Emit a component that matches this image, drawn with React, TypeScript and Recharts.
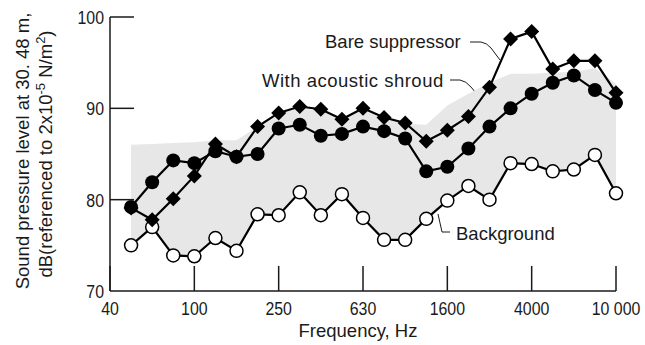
import React from "react"
import { ComposedChart, Line, Area, XAxis, YAxis } from "recharts"

// one-third octave band centres, Hz
const bands = [40, 50, 63, 80, 100, 125, 160, 200, 250, 315, 400, 500, 630, 800, 1000, 1250, 1600, 2000, 2500, 3150, 4000, 5000, 6300, 8000, 10000]

// levels from 50 Hz up (no reading at 40 Hz)
const bareSuppressor = [79.1, 77.8, 80.1, 82.6, 86.1, 84.7, 88.0, 89.5, 90.2, 89.9, 88.8, 90.0, 89.0, 88.4, 86.4, 87.6, 89.1, 92.3, 97.6, 98.4, 94.3, 95.2, 95.2, 91.7]
const withShroud = [79.2, 81.9, 84.3, 84.0, 85.3, 84.7, 85.0, 87.8, 88.2, 87.0, 87.2, 88.0, 87.5, 86.7, 83.1, 83.6, 85.6, 88.0, 90.0, 91.6, 92.8, 93.6, 92.0, 90.6]
const background = [75.0, 77.0, 73.9, 73.8, 75.8, 74.4, 78.4, 78.3, 80.8, 78.3, 80.6, 78.0, 75.6, 75.6, 77.9, 79.9, 81.5, 80.0, 84.0, 83.9, 83.1, 83.3, 84.9, 80.7]
// upper edge of the shaded band (lower edge follows background)
const bandTop = [86.0, 86.1, 86.2, 86.3, 86.5, 86.5, 88.0, 89.5, 90.0, 89.8, 89.0, 89.8, 89.0, 88.3, 88.2, 90.3, 91.6, 92.8, 93.8, 93.8, 93.9, 94.0, 94.4, 92.7]

const yTicks = [70, 80, 90, 100]

const data = bands.map((freq, i) => {
  const j = i - 1
  if (j < 0) return { freq }
  return {
    freq,
    bare: bareSuppressor[j],
    shroud: withShroud[j],
    bg: background[j],
    range: [background[j], bandTop[j]],
  }
})

const FONT = "'Liberation Sans', Arial, sans-serif"
const INK = "#1a1a1a"

const fmtFreq = (v: number) => (v >= 10000 ? `${v / 1000} 000` : String(v))

// tick numbers are set a little condensed
function XTick(props: any) {
  const { x, y, payload } = props
  return (
    <g>
      <line x1={x} y1={y} x2={x} y2={y - 25} stroke={INK} strokeWidth={1.5} />
      <text
        transform={`translate(${x},${y + 24}) scale(0.86,1)`}
        textAnchor="middle"
        fontFamily={FONT}
        fontSize={18.5}
        fill={INK}
      >
        {fmtFreq(payload.value)}
      </text>
    </g>
  )
}

function YTick(props: any) {
  const { x, y, payload } = props
  return (
    <g>
      {payload.value !== 70 && <line x1={x} y1={y} x2={x + 24} y2={y} stroke={INK} strokeWidth={1.5} />}
      <text
        transform={`translate(${x - 6},${y + 7}) scale(0.86,1)`}
        textAnchor="end"
        fontFamily={FONT}
        fontSize={18.5}
        fill={INK}
      >
        {payload.value}
      </text>
    </g>
  )
}

function diamondDot(props: any) {
  const { cx, cy, index } = props
  if (cx == null || cy == null) return <g key={`d${index}`} />
  const s = 7.5
  return <path key={`d${index}`} d={`M${cx},${cy - s}L${cx + s},${cy}L${cx},${cy + s}L${cx - s},${cy}Z`} fill="#000" />
}

function App() {
  return (
    <div style={{ position: "absolute", left: 0, top: 0, background: "#fff" }}>
      <ComposedChart width={645} height={345} data={data} margin={{ top: 17, right: 29, bottom: 0, left: 0 }}>
        <XAxis
          dataKey="freq"
          type="category"
          interval={3}
          tickSize={0}
          tickMargin={0}
          tickLine={false}
          tick={<XTick />}
          axisLine={{ stroke: INK, strokeWidth: 1.5 }}
          height={54}
        />
        <YAxis
          type="number"
          domain={[70, 100]}
          ticks={yTicks}
          tickSize={0}
          tickMargin={0}
          tickLine={false}
          tick={<YTick />}
          axisLine={{ stroke: INK, strokeWidth: 1.5 }}
          width={110}
        />
        <Area dataKey="range" stroke="none" fill="#e7e7e7" fillOpacity={1} isAnimationActive={false} />
        <Line
          dataKey="bg"
          stroke="#000"
          strokeWidth={2.2}
          dot={{ r: 6.5, fill: "#fff", stroke: "#000", strokeWidth: 1.5 }}
          isAnimationActive={false}
        />
        <Line
          dataKey="shroud"
          stroke="#000"
          strokeWidth={2.2}
          dot={{ r: 7, fill: "#000", stroke: "#000", strokeWidth: 0 }}
          isAnimationActive={false}
        />
        <Line dataKey="bare" stroke="#000" strokeWidth={2.2} dot={diamondDot} isAnimationActive={false} />

        {/* axis titles */}
        <text x={358} y={337} textAnchor="middle" fontFamily={FONT} fontSize={18.5} fill={INK}>
          Frequency, Hz
        </text>
        <text transform="translate(29,151) rotate(-90)" textAnchor="middle" fontFamily={FONT} fontSize={18.5} fill={INK}>
          Sound pressure level at 30. 48 m,
        </text>
        <text transform="translate(52,154) rotate(-90)" textAnchor="middle" fontFamily={FONT} fontSize={18.5} fill={INK}>
          dB(referenced to 2x10
          <tspan dy={-7} fontSize={13}>-5</tspan>
          <tspan dy={7}> N/m</tspan>
          <tspan dy={-7} fontSize={13}>2</tspan>
          <tspan dy={7}>)</tspan>
        </text>

        {/* series callouts */}
        <text x={325} y={48} fontFamily={FONT} fontSize={18.5} fill={INK}>Bare suppressor</text>
        <path d="M470,42 L481,42 Q487,43 491,48 L500,60" fill="none" stroke={INK} strokeWidth={1} />
        <text x={262} y={87} fontFamily={FONT} fontSize={18.5} fill={INK} letterSpacing={0.5}>With acoustic shroud</text>
        <path d="M450,80 L460,80 Q466,81 471,87 L495,116" fill="none" stroke={INK} strokeWidth={1} />
        <text x={456} y={240} fontFamily={FONT} fontSize={18.5} fill={INK}>Background</text>
        <path d="M438,214 L442,232 L450,232" fill="none" stroke={INK} strokeWidth={1} />
      </ComposedChart>
    </div>
  )
}

export default App
